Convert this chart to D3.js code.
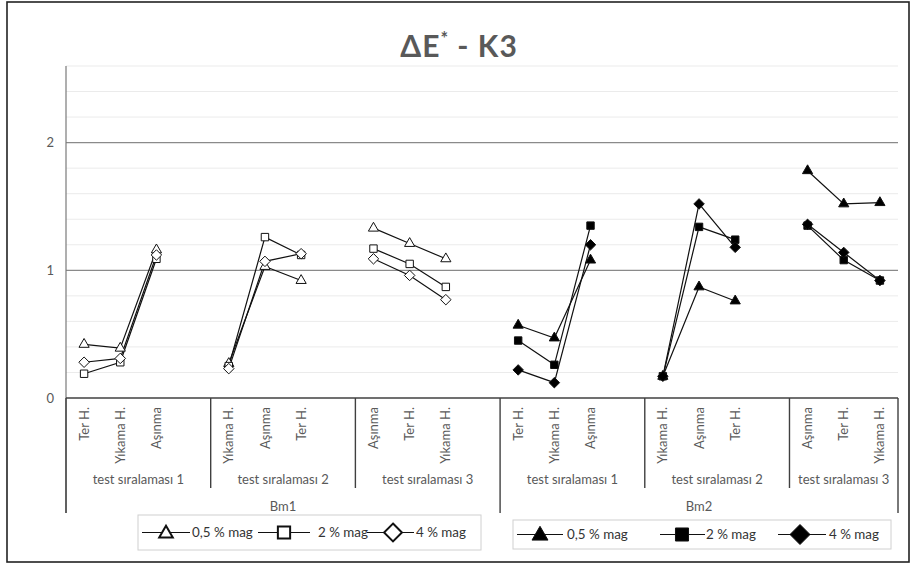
<!DOCTYPE html>
<html><head><meta charset="utf-8">
<script src="https://cdn.jsdelivr.net/npm/d3@7"></script>
<style>
body{margin:0;background:#fff}
svg{display:block}
text{font-family:Lato,"Open Sans",sans-serif}
</style>
</head><body>
<svg id="c" width="912" height="565"></svg>
<script>
// ---- data ----
const categories = ["Ter H.","Yıkama H.","Aşınma","",
  "Yıkama H.","Aşınma","Ter H.","",
  "Aşınma","Ter H.","Yıkama H.","",
  "Ter H.","Yıkama H.","Aşınma","",
  "Yıkama H.","Aşınma","Ter H.","",
  "Aşınma","Ter H.","Yıkama H."];
const subGroups = ["test sıralaması 1","test sıralaması 2","test sıralaması 3",
  "test sıralaması 1","test sıralaması 2","test sıralaması 3"];
const mainGroups = ["Bm1","Bm2"];
const seriesNames = ["0,5 % mag","2 % mag","4 % mag"];
const yTicks = [0,1,2];
const _ = null;
const bm1_05 = [0.42,0.39,1.16,_, 0.27,1.03,0.92,_, 1.33,1.21,1.09,_, _,_,_,_, _,_,_,_, _,_,_];
const bm1_2  = [0.19,0.28,1.09,_, 0.25,1.26,1.12,_, 1.17,1.05,0.87,_, _,_,_,_, _,_,_,_, _,_,_];
const bm1_4  = [0.28,0.31,1.12,_, 0.23,1.07,1.13,_, 1.09,0.96,0.77,_, _,_,_,_, _,_,_,_, _,_,_];
const bm2_05 = [_,_,_,_, _,_,_,_, _,_,_,_, 0.57,0.47,1.08,_, 0.17,0.87,0.76,_, 1.78,1.52,1.53];
const bm2_2  = [_,_,_,_, _,_,_,_, _,_,_,_, 0.45,0.26,1.35,_, 0.17,1.34,1.24,_, 1.35,1.08,0.92];
const bm2_4  = [_,_,_,_, _,_,_,_, _,_,_,_, 0.22,0.12,1.20,_, 0.17,1.52,1.18,_, 1.36,1.14,0.92];

// ---- layout ----
const svg = d3.select("#c");
const L = 66, R = 898, T = 66, B = 398;
const x = d3.scaleBand().domain(d3.range(categories.length)).range([L, R]).padding(0);
const y = d3.scaleLinear().domain([0, 2.6]).range([B, T]);
const cx = i => x(i) + x.bandwidth()/2;
const gray = "#595959";
const FONT = "Lato,'Open Sans',sans-serif";

// outer frame
svg.append("rect").attr("x",7).attr("y",2).attr("width",902).attr("height",560)
  .attr("fill","#fff").attr("stroke","#222").attr("stroke-width",1.6);

// title
const title = svg.append("text").attr("x",459).attr("y",57).attr("text-anchor","middle")
  .attr("font-size",30).attr("font-weight","bold").attr("fill",gray).attr("letter-spacing",1);
title.append("tspan").text("ΔE");
title.append("tspan").text("*").attr("font-size",18).attr("dy",-12);
title.append("tspan").text(" - K3").attr("dy",12);

// minor gridlines
const minor = d3.range(0.2, 2.61, 0.2).filter(v => Math.abs(v - Math.round(v)) > 1e-6);
svg.append("g").selectAll("line").data(minor).join("line")
  .attr("x1",L).attr("x2",R).attr("y1",d=>y(d)).attr("y2",d=>y(d))
  .attr("stroke","#ebebeb").attr("stroke-width",1);
// major gridlines
svg.append("g").selectAll("line").data(yTicks.filter(d=>d>0)).join("line")
  .attr("x1",L).attr("x2",R).attr("y1",d=>y(d)).attr("y2",d=>y(d))
  .attr("stroke","#8a8a8a").attr("stroke-width",1.2);

// y axis
const yAxis = d3.axisLeft(y).tickValues(yTicks).tickFormat(d3.format("d")).tickSize(0).tickPadding(12);
const ya = svg.append("g").attr("transform",`translate(${L},0)`).call(yAxis);
ya.select(".domain").remove();
ya.selectAll("text").attr("font-size",13).attr("fill",gray).attr("font-family",FONT);
svg.append("line").attr("x1",L).attr("x2",L).attr("y1",T).attr("y2",513)
  .attr("stroke","#7a7a7a").attr("stroke-width",1.2);

// x axis line
svg.append("line").attr("x1",L).attr("x2",R).attr("y1",B).attr("y2",B)
  .attr("stroke","#404040").attr("stroke-width",1.4);

// category labels (via axis)
const xAxis = d3.axisBottom(x).tickFormat(i => categories[i]).tickSize(0);
const xa = svg.append("g").attr("transform",`translate(0,${B})`).call(xAxis);
xa.select(".domain").remove();
xa.selectAll("text")
  .attr("transform","rotate(-90)")
  .attr("text-anchor","end").attr("x",-9).attr("y",0).attr("dy","0.35em")
  .attr("font-size",13).attr("fill",gray).attr("font-family",FONT);

// group dividers
const nSub = subGroups.length;
const subEdges = d3.range(nSub+1).map(g => g === nSub ? R : x(g*4));
svg.append("g").selectAll("line").data(subEdges).join("line")
  .attr("x1",d=>d).attr("x2",d=>d).attr("y1",B)
  .attr("y2",(d,i)=> (i % 3 === 0) ? 513 : 488)
  .attr("stroke","#404040").attr("stroke-width",1.4);
svg.append("g").selectAll("text").data(subGroups).join("text")
  .attr("x",(d,i)=>(subEdges[i]+subEdges[i+1])/2).attr("y",484)
  .attr("text-anchor","middle").attr("font-size",13).attr("fill",gray).text(d=>d);
svg.append("g").selectAll("text").data(mainGroups).join("text")
  .attr("x",(d,i)=>(subEdges[i*3]+subEdges[i*3+3])/2).attr("y",511)
  .attr("text-anchor","middle").attr("font-size",13).attr("fill",gray).text(d=>d);

// custom square diamond
const diamond = {draw(ctx,size){const r=Math.sqrt(size/2);ctx.moveTo(0,-r);ctx.lineTo(r,0);ctx.lineTo(0,r);ctx.lineTo(-r,0);ctx.closePath();}};
const shapes = [d3.symbolTriangle, d3.symbolSquare, diamond];
const sizes = [45, 55, 55];

const series = [
  {vals:bm1_05, shape:0, fill:"#fff"},
  {vals:bm1_2,  shape:1, fill:"#fff"},
  {vals:bm1_4,  shape:2, fill:"#fff"},
  {vals:bm2_05, shape:0, fill:"#000"},
  {vals:bm2_2,  shape:1, fill:"#000"},
  {vals:bm2_4,  shape:2, fill:"#000"}
];
const line = d3.line().defined(d=>d.v!=null).x(d=>cx(d.i)).y(d=>y(d.v));
series.forEach(s=>{
  const pts = s.vals.map((v,i)=>({v,i}));
  svg.append("path").attr("d",line(pts)).attr("fill","none").attr("stroke","#111").attr("stroke-width",1.2);
});
series.forEach(s=>{
  const pts = s.vals.map((v,i)=>({v,i})).filter(d=>d.v!=null);
  svg.append("g").selectAll("path").data(pts).join("path")
    .attr("transform",d=>`translate(${cx(d.i)},${y(d.v)})`)
    .attr("d",d3.symbol().type(shapes[s.shape]).size(sizes[s.shape]))
    .attr("fill",s.fill).attr("stroke","#111").attr("stroke-width",1);
});

// legends
function legend(x0,y0,w,h,items,fill,sw){
  const g = svg.append("g");
  g.append("rect").attr("x",x0).attr("y",y0).attr("width",w).attr("height",h)
    .attr("fill","#fff").attr("stroke","#d0d0d0").attr("stroke-width",1);
  items.forEach(it=>{
    const my = y0 + h/2;
    g.append("line").attr("x1",it.l1).attr("x2",it.l2).attr("y1",my).attr("y2",my)
      .attr("stroke","#111").attr("stroke-width",1.2);
    g.append("path").attr("transform",`translate(${it.m},${my + (it.shape===0?1:0)})`)
      .attr("d",d3.symbol().type(shapes[it.shape]).size(it.size))
      .attr("fill",fill).attr("stroke","#111").attr("stroke-width",sw);
    g.append("text").attr("x",it.t).attr("y",my).attr("dy","0.35em")
      .attr("font-size",13.4).attr("fill","#333").text(seriesNames[it.shape]);
  });
}
legend(138,515,343,35,[
  {l1:142,l2:190,m:166,shape:0,size:80,t:192},
  {l1:258,l2:310,m:284,shape:1,size:150,t:318},
  {l1:367,l2:414,m:393,shape:2,size:160,t:416}
],"#fff",2);
legend(513,520,378,29,[
  {l1:517,l2:563,m:540,shape:0,size:110,t:567},
  {l1:660,l2:705,m:682,shape:1,size:170,t:706},
  {l1:778,l2:826,m:800,shape:2,size:200,t:829}
],"#000",1);
</script>
</body></html>
